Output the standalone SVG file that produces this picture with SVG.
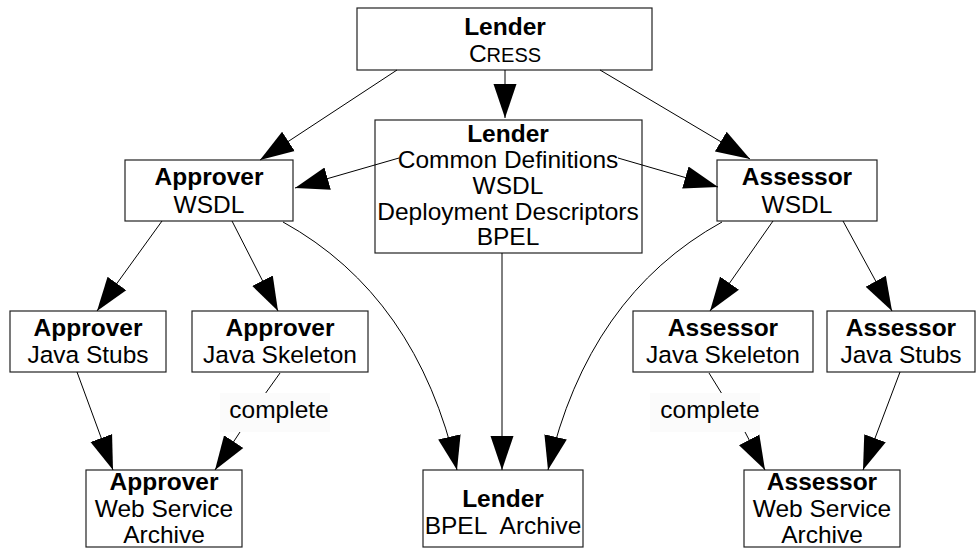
<svg xmlns="http://www.w3.org/2000/svg" width="976" height="548" viewBox="0 0 976 548">
<style>
.box{fill:#fff;stroke:#222;stroke-width:1.2}
.t{font-family:"Liberation Sans",Arial,sans-serif;font-size:24.5px;fill:#000;text-anchor:middle}
.b{font-weight:bold}
.e{fill:none;stroke:#000;stroke-width:1}
.lbg{fill:#fbfbfb;stroke:none}
</style>
<defs>
<marker id="ah" markerUnits="userSpaceOnUse" markerWidth="35" markerHeight="25" refX="34" refY="12.5" orient="auto">
<path d="M0,1 L34,12.5 L0,24 z" fill="#000"/>
</marker>
</defs>
<rect width="976" height="548" fill="#fff"/>
<g id="lender-cress">
<rect class="box" x="357" y="8" width="295" height="62"/>
<text class="t b" x="505" y="35">Lender</text>
<text class="t" x="505" y="62">C<tspan font-size="20">RESS</tspan></text>
</g>
<g id="lender-defs">
<rect class="box" x="375" y="120" width="267" height="133"/>
<text class="t b" x="508" y="142">Lender</text>
<text class="t" x="508" y="168">Common Definitions</text>
<text class="t" x="508" y="194">WSDL</text>
<text class="t" x="508" y="220">Deployment Descriptors</text>
<text class="t" x="508" y="245">BPEL</text>
</g>
<g id="approver-wsdl">
<rect class="box" x="125" y="160" width="168" height="61"/>
<text class="t b" x="209" y="185">Approver</text>
<text class="t" x="209" y="213">WSDL</text>
</g>
<g id="assessor-wsdl">
<rect class="box" x="717" y="160" width="160" height="61"/>
<text class="t b" x="797" y="185">Assessor</text>
<text class="t" x="797" y="213">WSDL</text>
</g>
<g id="approver-stubs">
<rect class="box" x="10" y="311" width="156" height="61"/>
<text class="t b" x="88" y="336">Approver</text>
<text class="t" x="88" y="363">Java Stubs</text>
</g>
<g id="approver-skeleton">
<rect class="box" x="192" y="311" width="176" height="61"/>
<text class="t b" x="280" y="336">Approver</text>
<text class="t" x="280" y="363">Java Skeleton</text>
</g>
<g id="assessor-skeleton">
<rect class="box" x="633" y="311" width="180" height="61"/>
<text class="t b" x="723" y="336">Assessor</text>
<text class="t" x="723" y="363">Java Skeleton</text>
</g>
<g id="assessor-stubs">
<rect class="box" x="827" y="311" width="148" height="61"/>
<text class="t b" x="901" y="336">Assessor</text>
<text class="t" x="901" y="363">Java Stubs</text>
</g>
<g id="approver-archive">
<rect class="box" x="86" y="470" width="156" height="77"/>
<text class="t b" x="164" y="490">Approver</text>
<text class="t" x="164" y="517">Web Service</text>
<text class="t" x="164" y="543">Archive</text>
</g>
<g id="lender-archive">
<rect class="box" x="423" y="470" width="160" height="77"/>
<text class="t b" x="503" y="507">Lender</text>
<text class="t" x="503" y="534">BPEL&#160; Archive</text>
</g>
<g id="assessor-archive">
<rect class="box" x="744" y="470" width="156" height="77"/>
<text class="t b" x="822" y="490">Assessor</text>
<text class="t" x="822" y="517">Web Service</text>
<text class="t" x="822" y="543">Archive</text>
</g>
<g id="edges">
<path class="e" d="M505,70 L505,118" marker-end="url(#ah)"/>
<path class="e" d="M397,70 L260,160" marker-end="url(#ah)"/>
<path class="e" d="M600,70 L750,159" marker-end="url(#ah)"/>
<path class="e" d="M399,158 L295,188" marker-end="url(#ah)"/>
<path class="e" d="M618,158 L718,187" marker-end="url(#ah)"/>
<path class="e" d="M162,221 L97,311" marker-end="url(#ah)"/>
<path class="e" d="M232,221 L278,311" marker-end="url(#ah)"/>
<path class="e" d="M283,222 Q417,296 457,470" marker-end="url(#ah)"/>
<path class="e" d="M502,253 L502,470" marker-end="url(#ah)"/>
<path class="e" d="M722,222 Q588,296 548,470" marker-end="url(#ah)"/>
<path class="e" d="M773,221 L710,311" marker-end="url(#ah)"/>
<path class="e" d="M843,221 L892,311" marker-end="url(#ah)"/>
<path class="e" d="M77,372 L113,470" marker-end="url(#ah)"/>
<path class="e" d="M280,373 L265,394"/>
<path class="e" d="M240,432 L215,470" marker-end="url(#ah)"/>
<path class="e" d="M709,373 L722,394"/>
<path class="e" d="M745,432 L765,470" marker-end="url(#ah)"/>
<path class="e" d="M900,372 L863,470" marker-end="url(#ah)"/>
</g>
<g id="lbl-approver-complete">
<rect class="lbg" x="220" y="393" width="110" height="39"/>
<text class="t" x="279" y="418">complete</text>
</g>
<g id="lbl-assessor-complete">
<rect class="lbg" x="650" y="393" width="110" height="39"/>
<text class="t" x="710" y="418">complete</text>
</g>
</svg>
